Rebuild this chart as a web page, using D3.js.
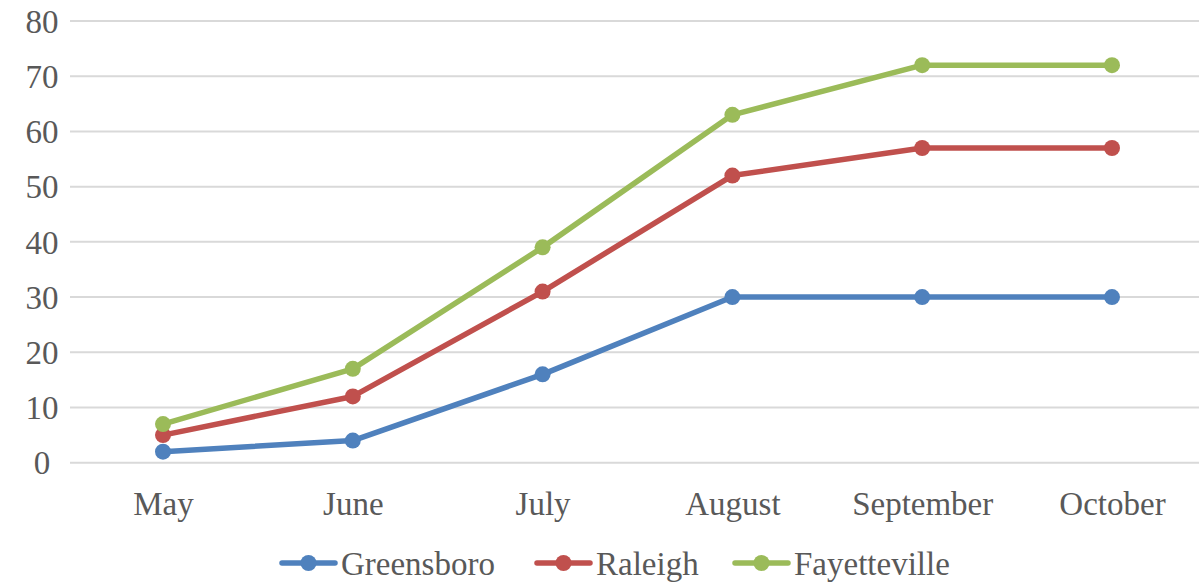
<!DOCTYPE html>
<html>
<head>
<meta charset="utf-8">
<script src="https://cdn.jsdelivr.net/npm/d3@7"></script>
<style>
html,body{margin:0;padding:0;background:#fff;}
svg{display:block;}
</style>
</head>
<body>
<svg id="chart" width="1199" height="583"></svg>
<script>
const months = ["May","June","July","August","September","October"];
const greensboro = [2,4,16,30,30,30];
const raleigh = [5,12,31,52,57,57];
const fayetteville = [7,17,39,63,72,72];
const yTicks = [0,10,20,30,40,50,60,70,80];
const seriesNames = ["Greensboro","Raleigh","Fayetteville"];
const seriesColors = ["#4F81BD","#C0504D","#9BBB59"];

const series = [
  {name: seriesNames[0], values: greensboro, color: seriesColors[0]},
  {name: seriesNames[1], values: raleigh, color: seriesColors[1]},
  {name: seriesNames[2], values: fayetteville, color: seriesColors[2]}
];

const svg = d3.select("#chart");
const font = "'Liberation Serif', 'Times New Roman', serif";
const textColor = "#595959";

const x = d3.scalePoint().domain(months).range([163, 1112]);
const y = d3.scaleLinear().domain([0, 80]).range([462.7, 21]);

// gridlines
const grid = svg.append("g");
grid.selectAll("line").data(yTicks).enter().append("line")
  .attr("x1", 70).attr("x2", 1199)
  .attr("y1", d => y(d)).attr("y2", d => y(d))
  .attr("stroke", "#d9d9d9").attr("stroke-width", 2);

// y axis labels
const yAxis = d3.axisLeft(y).tickValues(yTicks).tickSize(0).tickPadding(0);
const yg = svg.append("g").attr("transform", "translate(42,0)").call(yAxis);
yg.select(".domain").remove();
yg.selectAll("text").attr("font-family", font).attr("font-size", 33)
  .attr("fill", textColor).attr("text-anchor", "middle").attr("dy", "0.34em");

// x axis labels
const xAxis = d3.axisBottom(x).tickSize(0).tickPadding(0);
const xg = svg.append("g").attr("transform", "translate(0,515)").call(xAxis);
xg.select(".domain").remove();
xg.selectAll("text").attr("font-family", font).attr("font-size", 33)
  .attr("fill", textColor).attr("dy", 0);

// lines
const line = d3.line().x((d, i) => x(months[i])).y(d => y(d));
series.forEach(s => {
  const g = svg.append("g");
  g.append("path").datum(s.values).attr("d", line)
    .attr("fill", "none").attr("stroke", s.color).attr("stroke-width", 5.5)
    .attr("stroke-linejoin", "round").attr("stroke-linecap", "round");
  g.selectAll("circle").data(s.values).enter().append("circle")
    .attr("cx", (d, i) => x(months[i])).attr("cy", d => y(d))
    .attr("r", 8).attr("fill", s.color);
});

// legend
const legendX = [282, 537, 735];
const legend = svg.append("g");
series.forEach((s, i) => {
  const g = legend.append("g").attr("transform", `translate(${legendX[i]},563)`);
  g.append("line").attr("x1", 0).attr("x2", 53).attr("y1", 0).attr("y2", 0)
    .attr("stroke", s.color).attr("stroke-width", 5.5).attr("stroke-linecap", "round");
  g.append("circle").attr("cx", 26.5).attr("cy", 0).attr("r", 8).attr("fill", s.color);
  g.append("text").attr("x", 59).attr("y", 12).text(s.name)
    .attr("font-family", font).attr("font-size", 33).attr("fill", textColor);
});
</script>
</body>
</html>
